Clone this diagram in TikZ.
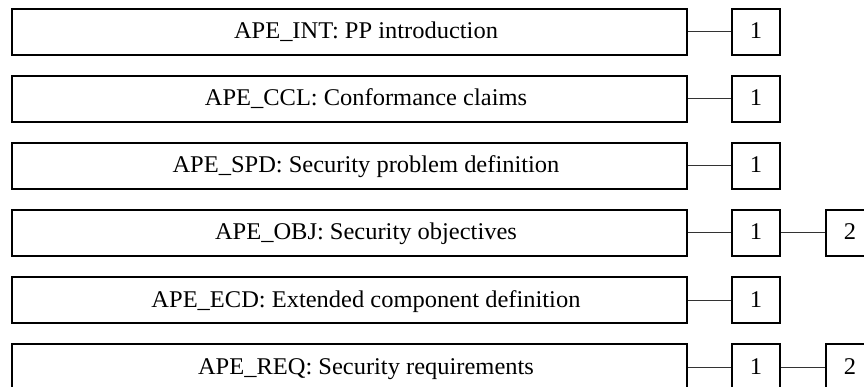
\documentclass[tikz,border=0pt]{standalone}
\usepackage{fontspec}
\setmainfont[FakeStretch=1.02]{Liberation Serif}
\usepackage{tikz}

\begin{document}
\begin{tikzpicture}[
    x = 1pt,
    y = -1pt,
    %
    family/.style = {draw, line width = 1.6pt,
      font = \fontsize{24}{28}\selectfont,
      minimum width = {675pt},
      minimum height = {46pt},
      inner sep = 0pt,
      text height = 16pt,
      text depth = 2pt,
      execute at begin node = {\hspace*{33pt}}},
    %
    level/.style = {draw, line width = 1.6pt,
      font = \fontsize{24}{28}\selectfont,
      minimum width = {48pt},
      minimum height = {46pt},
      inner sep = 0pt,
      text height = 16pt,
      text depth = 2pt},
    %
    link/.style = {line width = 1pt, black!80},
    ]

    \useasboundingbox (0, 0) rectangle (864, 387);

    \node at (349.5, 32)
    [family, name = INT] {APE\_INT: PP introduction};
    \node at (756, 32)
    [level, name = INT_1] {1};

    \node at (349.5, 99)
    [family, name = CCL] {APE\_CCL: Conformance claims};
    \node at (756, 99)
    [level, name = CCL_1] {1};

    \node at (349.5, 166)
    [family, name = SPD] {APE\_SPD: Security problem definition};
    \node at (756, 166)
    [level, name = SPD_1] {1};

    \node at (349.5, 233)
    [family, name = OBJ] {APE\_OBJ: Security objectives};
    \node at (756, 233)
    [level, name = OBJ_1] {1};
    \node at (850, 233)
    [level, name = OBJ_2] {2};

    \node at (349.5, 300)
    [family, name = ECD] {APE\_ECD: Extended component definition};
    \node at (756, 300)
    [level, name = ECD_1] {1};

    \node at (349.5, 367)
    [family, name = REQ] {APE\_REQ: Security requirements};
    \node at (756, 367)
    [level, name = REQ_1] {1};
    \node at (850, 367)
    [level, name = REQ_2] {2};

    \draw [link] (INT) -- (INT_1);
    \draw [link] (CCL) -- (CCL_1);
    \draw [link] (SPD) -- (SPD_1);
    \draw [link] (OBJ) -- (OBJ_1);
    \draw [link] (OBJ_1) -- (OBJ_2);
    \draw [link] (ECD) -- (ECD_1);
    \draw [link] (REQ) -- (REQ_1);
    \draw [link] (REQ_1) -- (REQ_2);

  \end{tikzpicture}
\end{document}
